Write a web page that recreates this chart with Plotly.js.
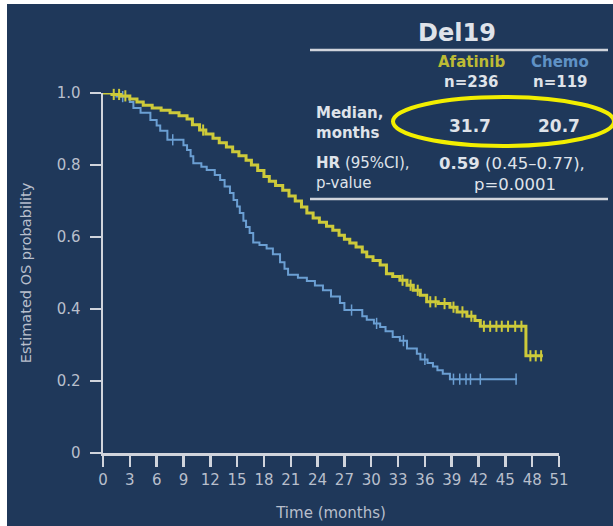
<!DOCTYPE html>
<html>
<head>
<meta charset="utf-8">
<script src="https://cdn.plot.ly/plotly-3.0.1.min.js"></script>
<style>
  html, body { margin: 0; padding: 0; background: #ffffff; width: 613px; height: 526px; overflow: hidden; }
  #chart { position: absolute; left: 7px; top: 4px; width: 606px; height: 522px; }
</style>
</head>
<body>
<div id="chart"></div>
<script>
// Kaplan-Meier overall survival, Del19 subgroup
const afatinibTime = [0, 1.0, 2.0, 3.0, 3.8, 4.5, 5.5, 6.5, 7.5, 8.5, 9.4, 10.0, 10.8, 11.5, 12.3, 13.0, 13.8, 14.5, 15.2, 16.0,
  16.6, 17.3, 18.0, 18.6, 19.3, 20.1, 20.8, 21.5, 22.2, 22.8, 23.5, 24.2, 25.0, 25.7, 26.4, 27.0, 27.6, 28.3, 29.0, 29.5,
  30.2, 31.0, 31.7, 32.4, 33.2, 34.0, 34.7, 35.5, 36.2, 37.5, 38.8, 39.6, 40.7, 41.6, 42.2, 47.3, 49.2];
const afatinibSurv = [1.0, 0.996, 0.992, 0.983, 0.975, 0.966, 0.958, 0.952, 0.945, 0.937, 0.928, 0.912, 0.897, 0.886, 0.874, 0.862, 0.850, 0.837, 0.826, 0.813,
  0.800, 0.785, 0.768, 0.755, 0.743, 0.730, 0.714, 0.700, 0.683, 0.667, 0.653, 0.641, 0.630, 0.619, 0.605, 0.594, 0.583, 0.572, 0.558, 0.545,
  0.535, 0.522, 0.498, 0.490, 0.480, 0.466, 0.452, 0.438, 0.420, 0.415, 0.405, 0.392, 0.380, 0.368, 0.352, 0.270, 0.270];
const afatinibCensor = [1.2, 1.8, 2.5, 11.2, 33.5, 34.4, 35.2, 36.6, 37.2, 38.2, 39.2, 40.2, 41.2, 42.6, 43.3, 44.0, 44.6, 45.3, 46.1, 46.8, 47.8, 48.4, 49.0];

const chemoTime = [0, 1.5, 3.0, 3.4, 4.2, 5.3, 6.0, 6.4, 7.2, 9.0, 9.4, 9.8, 10.1, 11.0, 11.6, 12.5, 13.1, 13.6, 14.2, 14.6,
  15.0, 15.3, 15.7, 16.0, 16.4, 16.8, 17.5, 18.3, 19.0, 19.8, 20.3, 20.7, 21.8, 22.8, 23.7, 24.6, 25.5, 26.5, 27.0, 29.0,
  29.5, 30.3, 31.0, 31.6, 32.4, 33.2, 34.0, 35.1, 35.5, 36.3, 36.9, 37.4, 38.0, 38.8, 46.3];
const chemoSurv = [1.0, 0.99, 0.975, 0.958, 0.945, 0.925, 0.91, 0.895, 0.87, 0.855, 0.842, 0.824, 0.805, 0.795, 0.786, 0.772, 0.758, 0.74, 0.722, 0.703,
  0.685, 0.667, 0.645, 0.628, 0.611, 0.585, 0.578, 0.568, 0.552, 0.53, 0.512, 0.495, 0.487, 0.478, 0.465, 0.452, 0.435, 0.417, 0.397, 0.38,
  0.37, 0.36, 0.35, 0.338, 0.322, 0.312, 0.29, 0.276, 0.26, 0.25, 0.24, 0.23, 0.22, 0.205, 0.205];
const chemoCensor = [2.2, 7.8, 27.8, 30.6, 33.6, 36.0, 39.2, 39.9, 40.6, 41.1, 42.2, 46.2];

const xTicks = [0, 3, 6, 9, 12, 15, 18, 21, 24, 27, 30, 33, 36, 39, 42, 45, 48, 51];
const yTicks = [0, 0.2, 0.4, 0.6, 0.8, 1.0];
const yTickText = ['0', '0.2', '0.4', '0.6', '0.8', '1.0'];

const armNames = ['Afatinib', 'Chemo'];
const armN = ['n=236', 'n=119'];
const armMedian = ['31.7', '20.7'];

const NAVY = '#1f385a';
const YELLOW = '#cdca3a';
const BLUE = '#6b9fd3';
const AXIS = '#d0d4dc';
const TICKTXT = '#b8bfcc';
const TABLETXT = '#dfe3ea';
const FONT = 'DejaVu Sans, Arial, sans-serif';

// step-function lookup for placing censor ticks on a curve
function survAt(times, surv, t) {
  let s = surv[0];
  for (let i = 0; i < times.length; i++) {
    if (times[i] <= t) s = surv[i]; else break;
  }
  return s;
}

function curve(times, surv, color, width) {
  return { x: times, y: surv, type: 'scatter', mode: 'lines', line: { shape: 'hv', color: color, width: width }, hoverinfo: 'skip' };
}
function censor(ctimes, times, surv, color, w) {
  return {
    x: ctimes, y: ctimes.map(t => survAt(times, surv, t)), type: 'scatter', mode: 'markers', cliponaxis: false,
    marker: { symbol: 'line-ns', size: 8, line: { color: color, width: w } }, hoverinfo: 'skip'
  };
}

const data = [
  curve(chemoTime, chemoSurv, BLUE, 2),
  censor(chemoCensor, chemoTime, chemoSurv, BLUE, 1.5),
  curve(afatinibTime, afatinibSurv, YELLOW, 3),
  censor(afatinibCensor, afatinibTime, afatinibSurv, YELLOW, 2)
];

// plot area spans x 96..552 and y 89..449 inside the 606x522 div
const PL = 96, PT = 89, PW = 456, PH = 360;
const px = x => (x - 7 - PL) / PW;
const py = y => (PT + PH - (y - 4)) / PH;

function ann(text, x, y, size, color, xanchor, bold) {
  return {
    xref: 'paper', yref: 'paper', x: px(x), y: py(y), xanchor: xanchor || 'center', yanchor: 'middle',
    text: bold ? '<b>' + text + '</b>' : text, showarrow: false,
    font: { family: FONT, size: size, color: color }
  };
}

const annotations = [
  ann('Del19', 457, 33, 24, TABLETXT, 'center', true),
  ann(armNames[0], 471, 62, 15, '#bdbb35', 'center', true),
  ann(armNames[1], 560, 62, 15, '#5f92c6', 'center', true),
  ann(armN[0], 471, 82, 15, TABLETXT, 'center', true),
  ann(armN[1], 560, 82, 15, TABLETXT, 'center', true),
  ann('Median,', 314, 113, 15, TABLETXT, 'left', true),
  ann('months', 314, 133, 15, TABLETXT, 'left', true),
  ann(armMedian[0], 470, 126, 17, TABLETXT, 'center', true),
  ann(armMedian[1], 559, 126, 17, TABLETXT, 'center', true),
  ann('<b>HR</b> (95%CI),', 314, 163, 15, TABLETXT, 'left', false),
  ann('p-value', 314, 183, 15, TABLETXT, 'left', false),
  ann('<b>0.59</b> (0.45–0.77),', 437, 163, 16.5, TABLETXT, 'left', false),
  ann('p=0.0001', 515, 184, 16.5, TABLETXT, 'center', false)
];

const shapes = [
  { type: 'line', xref: 'paper', yref: 'paper', x0: px(310), x1: px(608), y0: py(50), y1: py(50), line: { color: AXIS, width: 2.5 } },
  { type: 'line', xref: 'paper', yref: 'paper', x0: px(310), x1: px(608), y0: py(199), y1: py(199), line: { color: AXIS, width: 2.5 } },
  { type: 'circle', xref: 'paper', yref: 'paper', x0: px(393), x1: px(614), y0: py(146), y1: py(97), line: { color: '#f2ee00', width: 4 } }
];

const layout = {
  width: 606, height: 522,
  margin: { l: PL, r: 606 - PL - PW, t: PT, b: 522 - PT - PH },
  paper_bgcolor: NAVY, plot_bgcolor: NAVY,
  showlegend: false,
  font: { family: FONT, color: TICKTXT },
  xaxis: {
    range: [0, 51], tickvals: xTicks, ticks: 'outside', ticklen: 11, tickwidth: 2.5, tickcolor: AXIS,
    showline: true, linecolor: AXIS, linewidth: 2.5, showgrid: false, zeroline: false,
    tickfont: { family: FONT, size: 15, color: TICKTXT }, ticklabelstandoff: 0,
    title: { text: 'Time (months)', font: { family: FONT, size: 15, color: TICKTXT }, standoff: 20 }
  },
  yaxis: {
    range: [0, 1], tickvals: yTicks, ticktext: yTickText, ticks: 'outside', ticklen: 11, tickwidth: 2.5, tickcolor: AXIS,
    showline: true, linecolor: AXIS, linewidth: 2.5, showgrid: false, zeroline: false,
    tickfont: { family: FONT, size: 15, color: TICKTXT }, ticklabelstandoff: 6,
    title: { text: 'Estimated OS probability', font: { family: FONT, size: 14.5, color: TICKTXT }, standoff: 22 }
  },
  annotations: annotations,
  shapes: shapes
};

Plotly.newPlot('chart', data, layout, { displayModeBar: false, staticPlot: true });
</script>
</body>
</html>
